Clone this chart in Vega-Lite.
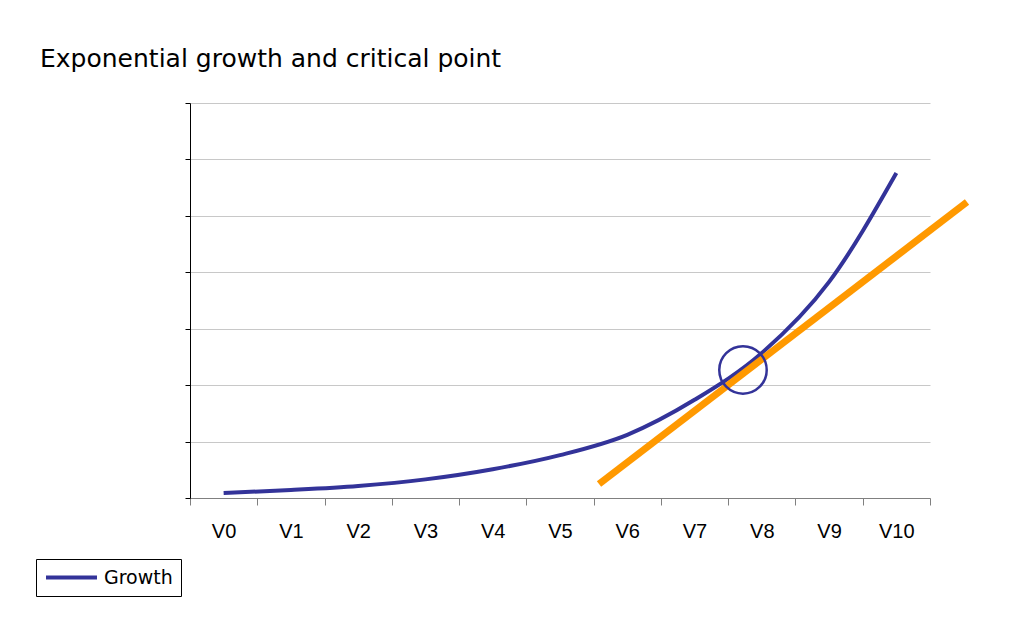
{
  "$schema": "https://vega.github.io/schema/vega-lite/v6.json",
  "width": 740,
  "height": 395,
  "autosize": {"type": "none"},
  "padding": {"left": 190, "top": 103, "right": 104, "bottom": 128},
  "background": "white",
  "title": {
    "text": "Exponential growth and critical point",
    "anchor": "start",
    "frame": "group",
    "dx": -150,
    "font": "DejaVu Sans",
    "fontSize": 25,
    "fontWeight": "normal",
    "color": "#000000",
    "baseline": "alphabetic",
    "offset": 35,
    "dy": 24
  },
  "config": {
    "view": {"stroke": null},
    "legend": {
      "orient": "none",
      "legendX": -154,
      "legendY": 456,
      "strokeColor": "#000000",
      "padding": 8,
      "symbolType": "stroke",
      "symbolStrokeWidth": 4,
      "symbolSize": 2600,
      "clipHeight": 21,
      "labelFont": "DejaVu Sans",
      "labelFontSize": 19,
      "labelColor": "#000000",
      "labelOffset": 5
    }
  },
  "datasets": {
    "growth": [
      {"idx": 0, "value": 0.89, "series": "Growth"},
      {"idx": 1, "value": 1.42, "series": "Growth"},
      {"idx": 2, "value": 2.13, "series": "Growth"},
      {"idx": 3, "value": 3.3, "series": "Growth"},
      {"idx": 4, "value": 5.1, "series": "Growth"},
      {"idx": 5, "value": 7.6, "series": "Growth"},
      {"idx": 6, "value": 11.2, "series": "Growth"},
      {"idx": 7, "value": 17.4, "series": "Growth"},
      {"idx": 8, "value": 25.7, "series": "Growth"},
      {"idx": 9, "value": 38.3, "series": "Growth"},
      {"idx": 10, "value": 57.6, "series": "Growth"}
    ],
    "tangent": [
      {"idx": 5.58, "value": 2.48},
      {"idx": 11.05, "value": 52.45}
    ],
    "critical": [
      {"idx": 7.72, "value": 22.7}
    ]
  },
  "layer": [
    {
      "data": {"name": "growth"},
      "mark": {"type": "line", "strokeWidth": 4, "interpolate": "monotone", "clip": false},
      "encoding": {
        "x": {
          "field": "idx",
          "type": "quantitative",
          "scale": {"domain": [-0.5, 10.5], "nice": false, "zero": false},
          "axis": {
            "values": [-0.5, 0.5, 1.5, 2.5, 3.5, 4.5, 5.5, 6.5, 7.5, 8.5, 9.5, 10.5],
            "labelExpr": "datum.value < 10 ? 'V' + (datum.value + 0.5) : ''",
            "title": null,
            "grid": false,
            "domainColor": "#808080",
            "tickColor": "#808080",
            "tickSize": 7,
            "labelFont": "Liberation Sans",
            "labelFontSize": 20,
            "labelColor": "#000000",
            "labelOffset": 33.6,
            "labelPadding": 16,
            "labelFlush": false,
            "labelBound": false,
            "labelOverlap": false,
            "labelAngle": 0
          }
        },
        "y": {
          "field": "value",
          "type": "quantitative",
          "scale": {"domain": [0, 70], "nice": false},
          "axis": {
            "values": [0, 10, 20, 30, 40, 50, 60, 70],
            "labels": false,
            "title": null,
            "grid": true,
            "gridColor": "#c8c8c8",
            "domainColor": "#000000",
            "tickColor": "#000000",
            "tickSize": 5
          }
        },
        "color": {
          "field": "series",
          "type": "nominal",
          "scale": {"domain": ["Growth"], "range": ["#333399"]},
          "legend": {"title": null}
        }
      }
    },
    {
      "data": {"name": "tangent"},
      "mark": {"type": "line", "color": "#FF9900", "strokeWidth": 7, "strokeCap": "butt", "clip": false},
      "encoding": {
        "x": {"field": "idx", "type": "quantitative"},
        "y": {"field": "value", "type": "quantitative"}
      }
    },
    {
      "data": {"name": "critical"},
      "mark": {"type": "point", "shape": "circle", "filled": false, "size": 2250, "stroke": "#333399", "strokeWidth": 2.5, "opacity": 1},
      "encoding": {
        "x": {"field": "idx", "type": "quantitative"},
        "y": {"field": "value", "type": "quantitative"}
      }
    }
  ]
}
